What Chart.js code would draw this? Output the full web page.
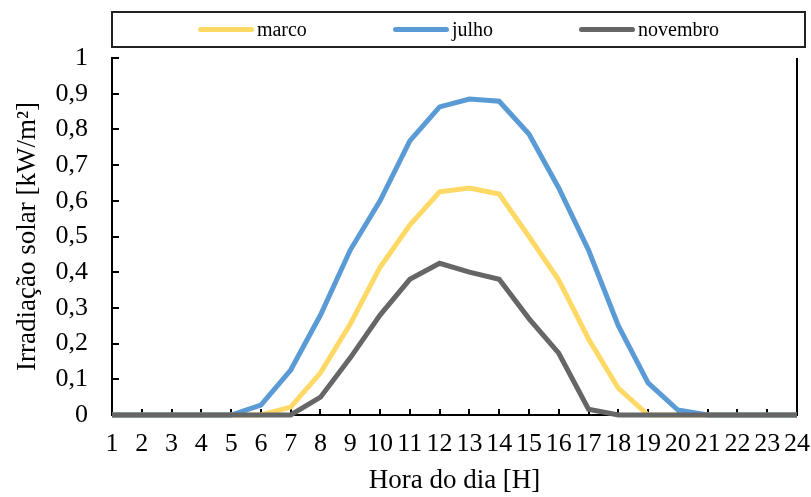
<!DOCTYPE html>
<html>
<head>
<meta charset="utf-8">
<script src="https://cdn.jsdelivr.net/npm/chart.js@4.4.1/dist/chart.umd.min.js"></script>
<style>
  html, body { margin: 0; padding: 0; background: #fff; }
  #wrap { position: relative; width: 811px; height: 497px; }
  #legend {
    position: absolute; left: 111px; top: 11px; width: 691px; height: 33px;
    border: 2px solid #222; display: flex; justify-content: center; align-items: center;
    gap: 86px; font-family: "Liberation Serif", "Times New Roman", serif; font-size: 20px; color: #000;
  }
  .item { display: flex; align-items: center; }
  .swatch { width: 56px; height: 5px; border-radius: 3px; margin-right: 3px; }
</style>
</head>
<body>
<div id="wrap">
  <canvas id="chart" width="811" height="497"></canvas>
  <div id="legend"></div>
</div>
<script>
// Data
const hours = ['1','2','3','4','5','6','7','8','9','10','11','12','13','14','15','16','17','18','19','20','21','22','23','24'];
const marco = [0, 0, 0, 0, 0, 0, 0.022, 0.118, 0.255, 0.414, 0.532, 0.625, 0.636, 0.619, 0.50, 0.378, 0.213, 0.075, 0, 0, 0, 0, 0, 0];
const julho = [0, 0, 0, 0, 0, 0.028, 0.126, 0.28, 0.462, 0.60, 0.768, 0.863, 0.885, 0.879, 0.787, 0.636, 0.462, 0.25, 0.09, 0.014, 0, 0, 0, 0];
const novembro = [0, 0, 0, 0, 0, 0, 0, 0.05, 0.16, 0.28, 0.38, 0.425, 0.40, 0.38, 0.27, 0.173, 0.016, 0, 0, 0, 0, 0, 0, 0];
const yTicks = [0, 0.1, 0.2, 0.3, 0.4, 0.5, 0.6, 0.7, 0.8, 0.9, 1];

const series = [
  { label: 'marco', data: marco, color: '#FFD966', order: 3 },
  { label: 'julho', data: julho, color: '#5B9BD5', order: 2 },
  { label: 'novembro', data: novembro, color: '#666666', order: 1 }
];

const serif = '"Liberation Serif", "Times New Roman", serif';

// Legend (HTML, boxed like the original)
const legendEl = document.getElementById('legend');
series.forEach(s => {
  const item = document.createElement('div');
  item.className = 'item';
  item.innerHTML = '<span class="swatch" style="background:' + s.color + '"></span><span>' + s.label + '</span>';
  legendEl.appendChild(item);
});

// inward tick marks + right border of the plot
const frame = {
  id: 'frame',
  beforeDatasetsDraw(chart) {
    const ctx = chart.ctx;
    const area = chart.chartArea;
    const x = chart.scales.x;
    const y = chart.scales.y;
    ctx.save();
    ctx.strokeStyle = '#000';
    ctx.lineWidth = 2;
    ctx.beginPath();
    hours.forEach((h, i) => {
      const px = Math.round(x.getPixelForValue(i));
      ctx.moveTo(px, area.bottom);
      ctx.lineTo(px, area.bottom - 6);
    });
    yTicks.forEach(v => {
      const py = Math.round(y.getPixelForValue(v));
      ctx.moveTo(area.left, py);
      ctx.lineTo(area.left + 7, py);
    });
    ctx.moveTo(area.right, area.top);
    ctx.lineTo(area.right, area.bottom);
    ctx.stroke();
    ctx.restore();
  }
};

new Chart(document.getElementById('chart'), {
  type: 'line',
  data: {
    labels: hours,
    datasets: series.map(s => ({
      label: s.label,
      data: s.data,
      borderColor: s.color,
      backgroundColor: s.color,
      borderWidth: 5,
      pointRadius: 0,
      tension: 0,
      clip: false,
      order: s.order
    }))
  },
  options: {
    responsive: false,
    animation: false,
    devicePixelRatio: 1,
    layout: { padding: { top: 58, right: 14, left: 0, bottom: 0 } },
    plugins: {
      legend: { display: false },
      tooltip: { enabled: false }
    },
    scales: {
      x: {
        offset: false,
        grid: { display: false, drawTicks: false },
        border: { color: '#000', width: 2 },
        ticks: {
          color: '#000', padding: 14, maxRotation: 0, minRotation: 0, autoSkip: false,
          font: { family: serif, size: 26 }
        },
        title: {
          display: true, text: 'Hora do dia [H]', color: '#000',
          font: { family: serif, size: 27 }, padding: { top: 0, bottom: 0 }
        },
        afterFit(scale) {
          scale.height = 82;
          scale.paddingLeft = 0;
          scale.paddingRight = 0;
        }
      },
      y: {
        min: 0, max: 1,
        grid: { display: false, drawTicks: false },
        border: { color: '#000', width: 2 },
        afterBuildTicks(scale) { scale.ticks = yTicks.map(v => ({ value: v })); },
        ticks: {
          color: '#000', padding: 24,
          font: { family: serif, size: 26 },
          callback: v => String(Number(v.toFixed(1))).replace('.', ',')
        },
        title: {
          display: true, text: 'Irradiação solar [kW/m²]', color: '#000',
          font: { family: serif, size: 27 }, padding: { top: 12, bottom: 0 }
        },
        afterFit(scale) {
          scale.width = 112;
          scale.paddingTop = 0;
          scale.paddingBottom = 0;
        }
      }
    }
  },
  plugins: [frame]
});
</script>
</body>
</html>
